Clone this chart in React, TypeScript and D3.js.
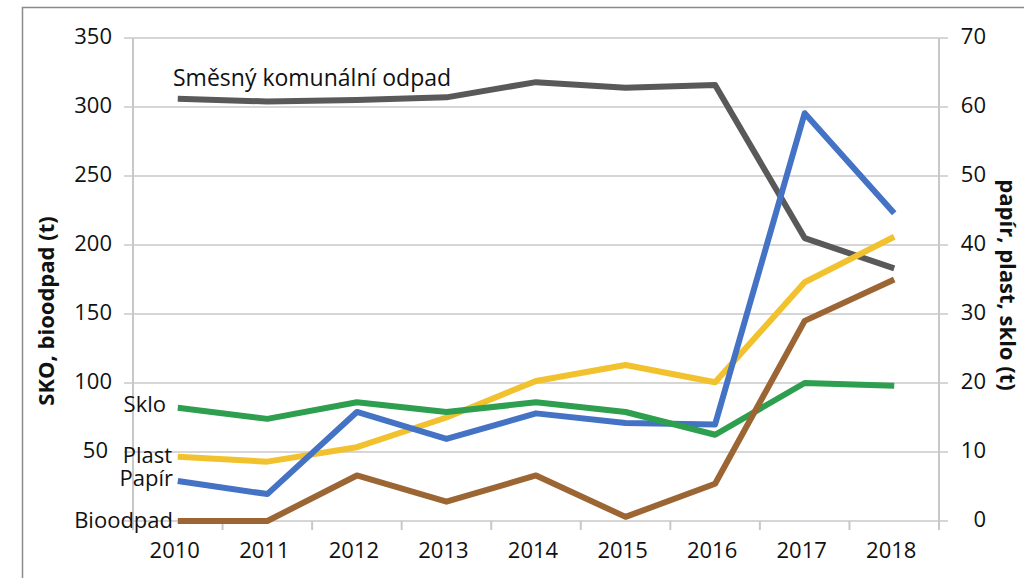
import React, { useEffect, useRef } from 'react';
import * as d3 from 'd3';

const years = ['2010', '2011', '2012', '2013', '2014', '2015', '2016', '2017', '2018'];

// left axis (t)
const sko = [306, 304, 305, 307, 318, 314, 316, 205, 183];
const bioodpad = [0, 0, 33, 14, 33, 3, 27, 145, 175];

// right axis (t)
const papir = [5.8, 3.9, 15.8, 11.9, 15.6, 14.2, 14.0, 59.1, 44.6];
const plast = [9.3, 8.6, 10.7, 15.0, 20.3, 22.6, 20.1, 34.6, 41.2];
const sklo = [16.4, 14.8, 17.2, 15.8, 17.2, 15.8, 12.5, 20.0, 19.6];

const leftTicks = [0, 50, 100, 150, 200, 250, 300, 350];
const rightTicks = [0, 10, 20, 30, 40, 50, 60, 70];

const W = 1024;
const H = 578;
const PLOT = { left: 133, right: 939, top: 38, bottom: 521 };
const FONT = "'Open Sans', 'Noto Sans', sans-serif";

const App = () => {
    const ref = useRef<SVGSVGElement>(null);

    useEffect(() => {
        const svg = d3.select(ref.current);
        svg.selectAll('*').remove();

        const x = d3.scaleBand().domain(years).range([PLOT.left, PLOT.right]);
        const cx = (d: string) => x(d)! + x.bandwidth() / 2;
        const yL = d3.scaleLinear().domain([0, 350]).range([PLOT.bottom, PLOT.top]);
        const yR = d3.scaleLinear().domain([0, 70]).range([PLOT.bottom, PLOT.top]);

        // frame
        svg.append('path')
            .attr('d', `M22.5,${H} L22.5,7.5 L${W},7.5`)
            .attr('fill', 'none')
            .attr('stroke', '#8a8a8a')
            .attr('stroke-width', 1.5);

        // gridlines
        svg.append('g').selectAll('line')
            .data(leftTicks)
            .enter().append('line')
            .attr('x1', PLOT.left - 9)
            .attr('x2', PLOT.right + 9)
            .attr('y1', d => yL(d))
            .attr('y2', d => yL(d))
            .attr('stroke', '#d6d6d6')
            .attr('stroke-width', 2);

        // axis lines
        svg.append('line')
            .attr('x1', PLOT.left).attr('x2', PLOT.left)
            .attr('y1', PLOT.top).attr('y2', PLOT.bottom + 9)
            .attr('stroke', '#c8c8c8').attr('stroke-width', 2);
        svg.append('line')
            .attr('x1', PLOT.right).attr('x2', PLOT.right)
            .attr('y1', PLOT.top).attr('y2', PLOT.bottom + 9)
            .attr('stroke', '#c8c8c8').attr('stroke-width', 2);

        // x category ticks
        svg.append('g').selectAll('line')
            .data(years.slice(1))
            .enter().append('line')
            .attr('x1', d => x(d)!)
            .attr('x2', d => x(d)!)
            .attr('y1', PLOT.bottom)
            .attr('y2', PLOT.bottom + 9)
            .attr('stroke', '#c8c8c8')
            .attr('stroke-width', 2);

        // left tick labels (0 is hidden behind the Bioodpad label)
        svg.append('g').selectAll('text')
            .data(leftTicks.filter(d => d > 0))
            .enter().append('text')
            .attr('x', d => d === 50 ? 108 : 112)
            .attr('y', d => yL(d) - 2)
            .attr('dy', '0.35em')
            .attr('text-anchor', 'end')
            .style('font-family', FONT)
            .style('font-size', '22px')
            .attr('fill', '#111')
            .text(d => d);

        // right tick labels
        svg.append('g').selectAll('text')
            .data(rightTicks)
            .enter().append('text')
            .attr('x', 986)
            .attr('y', d => yR(d) - 2)
            .attr('dy', '0.35em')
            .attr('text-anchor', 'end')
            .style('font-family', FONT)
            .style('font-size', '22px')
            .attr('fill', '#111')
            .text(d => d);

        // x labels
        svg.append('g').selectAll('text')
            .data(years)
            .enter().append('text')
            .attr('x', d => cx(d) - 3)
            .attr('y', 558)
            .attr('text-anchor', 'middle')
            .style('font-family', FONT)
            .style('font-size', '22px')
            .attr('fill', '#111')
            .text(d => d);

        // axis titles
        svg.append('text')
            .attr('transform', 'translate(54,311) rotate(-90)')
            .attr('text-anchor', 'middle')
            .style('font-family', FONT)
            .style('font-size', '22px')
            .style('font-weight', 'bold')
            .attr('fill', '#111')
            .text('SKO, bioodpad (t)');
        svg.append('text')
            .attr('transform', 'translate(1000,285) rotate(90)')
            .attr('text-anchor', 'middle')
            .style('font-family', FONT)
            .style('font-size', '22px')
            .style('font-weight', 'bold')
            .attr('fill', '#111')
            .text('papír, plast, sklo (t)');

        const series = [
            { name: 'sko', values: sko, scale: yL, color: '#595959' },
            { name: 'plast', values: plast, scale: yR, color: '#f2c12e' },
            { name: 'papir', values: papir, scale: yR, color: '#4472c4' },
            { name: 'sklo', values: sklo, scale: yR, color: '#2e9e4f' },
            { name: 'bioodpad', values: bioodpad, scale: yL, color: '#9c6634' },
        ];

        series.forEach(s => {
            const line = d3.line<number>()
                .x((_, i) => cx(years[i]))
                .y(d => s.scale(d));
            svg.append('path')
                .datum(s.values)
                .attr('fill', 'none')
                .attr('stroke', s.color)
                .attr('stroke-width', 6)
                .attr('stroke-linejoin', 'round')
                .attr('d', line);
        });

        // series labels
        const labels = [
            { text: 'Směsný komunální odpad', x: 173, y: 86, anchor: 'start' },
            { text: 'Sklo', x: 166, y: 412, anchor: 'end' },
            { text: 'Plast', x: 172, y: 463, anchor: 'end' },
            { text: 'Papír', x: 173, y: 486, anchor: 'end' },
            { text: 'Bioodpad', x: 173, y: 528, anchor: 'end' },
        ];
        svg.append('g').selectAll('text')
            .data(labels)
            .enter().append('text')
            .attr('x', d => d.x)
            .attr('y', d => d.y)
            .attr('text-anchor', d => d.anchor)
            .style('font-family', FONT)
            .style('font-size', d => d.anchor === 'start' ? '23px' : '22px')
            .attr('fill', '#111')
            .text(d => d.text);
    }, []);

    return (
        <svg ref={ref} width={W} height={H}
            style={{ position: 'absolute', left: 0, top: 0, background: '#fff' }} />
    );
};

export default App;
